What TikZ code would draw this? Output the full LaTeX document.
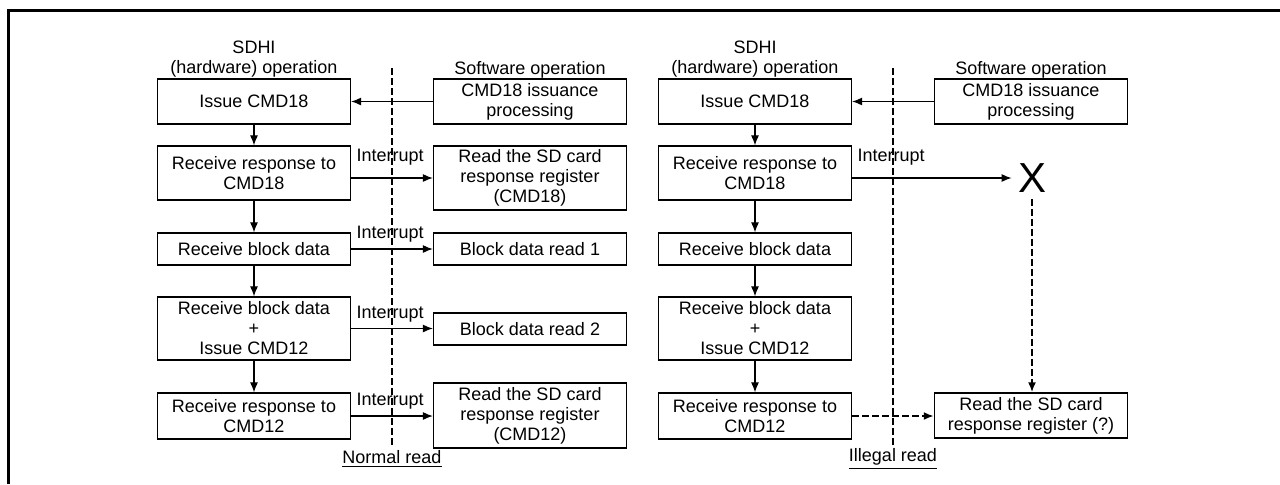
\documentclass[tikz,border=0pt]{standalone}
\usepackage{fontspec}
\setmainfont{Liberation Sans}
\usetikzlibrary{arrows.meta}

\begin{document}
\begin{tikzpicture}[>={Latex[length=5pt,width=4pt]}, x=0.5pt, y=-0.5pt,
    font=\fontsize{9pt}{10pt}\selectfont,
    box/.style={draw, line width=0.65pt, align=center, minimum width=96.5pt, inner sep=0pt},
    flow/.style={->, line width=0.55pt},
    lost/.style={->, line width=1pt, dash pattern=on 3.5pt off 1.5pt},
    divider/.style={line width=1pt, dash pattern=on 3.5pt off 1.5pt},
    irq/.style={anchor=south west, inner sep=0pt, xshift=2.5pt, yshift=3pt}]
    \useasboundingbox (0,0) rectangle (1280,484);

    % frame
    \draw[line width=1.5pt] (8.5,484) -- (8.5,10.5) -- (1280,10.5);

    % normal read
    \node[align=center, inner sep=0pt] (hwHeadA) at (254,59) {SDHI\\(hardware) operation};
    \node[inner sep=0pt] (swHeadA) at (530,69.5) {Software operation};
    \node[box, minimum height=22.5pt] (issueA) at (254,101.5) {Issue CMD18};
    \node[box, minimum height=22.5pt] (cmdA) at (530,101.5) {CMD18 issuance\\processing};
    \node[box, minimum height=27pt] (respA) at (254,173) {Receive response to\\CMD18};
    \node[box, minimum height=32pt] (regA) at (530,178) {Read the SD card\\response register\\(CMD18)};
    \node[box, minimum height=16pt] (blockA) at (254,249) {Receive block data};
    \node[box, minimum height=16pt] (readA) at (530,249) {Block data read 1};
    \node[box, minimum height=31.5pt] (lastA) at (254,328.5) {Receive block data\\+\\Issue CMD12};
    \node[box, minimum height=16pt] (readB) at (530,329) {Block data read 2};
    \node[box, minimum height=23pt] (stopA) at (254,416) {Receive response to\\CMD12};
    \node[box, minimum height=32.5pt] (regB) at (530,415.5) {Read the SD card\\response register\\(CMD12)};
    \node[inner sep=0pt] (normal) at (392,459) {\underline{Normal read}};
    \draw[divider] (392,68) -- (392,445);

    \draw[flow] (cmdA.west) -- (issueA.east);
    \draw[flow] (issueA) -- (respA);
    \draw[flow] (respA) -- (blockA);
    \draw[flow] (blockA) -- (lastA);
    \draw[flow] (lastA) -- (stopA);
    \draw[flow] (regA.west -| respA.east) -- (regA.west);
    \draw[flow] (blockA.east) -- (readA.west);
    \draw[flow] (lastA.east) -- (lastA.east -| readB.west);
    \draw[flow] (stopA.east) -- (stopA.east -| regB.west);
    \node[irq, yshift=3pt] (irqA) at (regA.west -| respA.east) {Interrupt};
    \node[irq] (irqB) at (blockA.east) {Interrupt};
    \node[irq] (irqC) at (lastA.east) {Interrupt};
    \node[irq] (irqD) at (stopA.east) {Interrupt};

    % illegal read
    \begin{scope}[xshift=250.5pt]
    \node[align=center, inner sep=0pt] (hwHeadR) at (254,59) {SDHI\\(hardware) operation};
    \node[inner sep=0pt] (swHeadR) at (530,69.5) {Software operation};
    \node[box, minimum height=22.5pt] (issueR) at (254,101.5) {Issue CMD18};
    \node[box, minimum height=22.5pt] (cmdR) at (530,101.5) {CMD18 issuance\\processing};
    \node[box, minimum height=27pt] (respR) at (254,173) {Receive response to\\CMD18};
    \node[box, minimum height=16pt] (blockR) at (254,249) {Receive block data};
    \node[box, minimum height=31.5pt] (lastR) at (254,328.5) {Receive block data\\+\\Issue CMD12};
    \node[box, minimum height=23pt] (stopR) at (254,416) {Receive response to\\CMD12};
    \node[box, minimum height=22.5pt] (regR) at (530,415.5) {Read the SD card\\response register (?)};
    \node[inner sep=3pt, font=\fontsize{21pt}{21pt}\selectfont] (xmark) at (531,178) {X};
    \node[inner sep=0pt] (illegal) at (392,459) {\underline{Illegal read}};
    \draw[divider] (392,68) -- (392,445);

    \draw[flow] (cmdR.west) -- (issueR.east);
    \draw[flow] (issueR) -- (respR);
    \draw[flow] (respR) -- (blockR);
    \draw[flow] (blockR) -- (lastR);
    \draw[flow] (lastR) -- (stopR);
    \draw[flow] (xmark.west -| respR.east) -- (xmark.west);
    \node[irq, yshift=3pt] (irqR) at (xmark.west -| respR.east) {Interrupt};
    \draw[lost] (xmark.south) -- (xmark.south |- regR.north);
    \draw[lost] (stopR.east) -- (stopR.east -| regR.west);
    \end{scope}
\end{tikzpicture}
\end{document}
